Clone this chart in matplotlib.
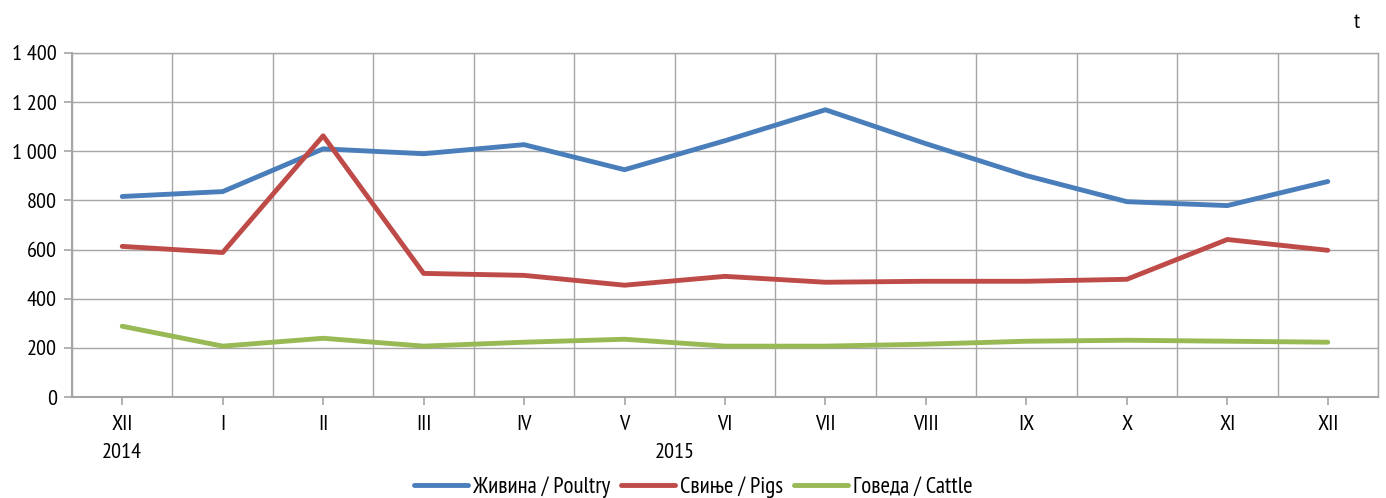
import matplotlib
matplotlib.use("Agg")
import matplotlib.pyplot as plt
from matplotlib.ticker import FixedLocator, FuncFormatter
from matplotlib import font_manager
from matplotlib.ft2font import FT2Font

months = ["XII", "I", "II", "III", "IV", "V", "VI", "VII", "VIII", "IX", "X", "XI", "XII"]
poultry = [816, 836, 1010, 990, 1027, 925, 1043, 1169, 1031, 901, 795, 779, 877]
pigs = [613, 588, 1063, 503, 495, 455, 491, 467, 471, 471, 479, 641, 597]
cattle = [288, 207, 239, 207, 223, 235, 207, 207, 215, 227, 231, 227, 223]
series_names = ["Живина / Poultry", "Свиње / Pigs", "Говеда / Cattle"]
colors = ["#4A7EBB", "#BE4B48", "#98B954"]
years = ["2014", "2015"]


def pick_font():
    prefs = ['Liberation Sans Narrow', 'Arial Narrow', 'PT Sans Narrow', 'Roboto Condensed',
             'Open Sans Condensed', 'Noto Sans Display', 'Archivo Narrow']
    by_name = {}
    for f in font_manager.fontManager.ttflist:
        if f.style == 'normal' and f.weight in (400, 'normal', 'regular'):
            by_name.setdefault(f.name, f.fname)
    for p in prefs:
        if p in by_name:
            try:
                cm = FT2Font(by_name[p]).get_charmap()
                if ord('Ж') in cm and (ord('ј') in cm or ord('њ') in cm):
                    return p
            except Exception:
                pass
    return 'Liberation Sans'


fam = pick_font()
plt.rcParams['font.family'] = [fam, 'Liberation Sans', 'DejaVu Sans']

fig = plt.figure(figsize=(13.86, 4.98), dpi=100)
W, H = 1386, 498
L, R, T, B = 72, 1378, 53, 397
ax = fig.add_axes([L / W, 1 - B / H, (R - L) / W, (B - T) / H])

x = list(range(len(months)))
for vals, name, c in zip([poultry, pigs, cattle], series_names, colors):
    ax.plot(x, vals, color=c, lw=3.5, label=name, solid_capstyle='round', solid_joinstyle='round', zorder=3)

ax.set_xlim(-0.5, len(months) - 0.5)
ax.set_ylim(0, 1400)
ax.yaxis.set_major_locator(FixedLocator(range(0, 1401, 200)))
ax.yaxis.set_major_formatter(FuncFormatter(lambda v, p: f"{int(v):,}".replace(",", " ")))
ax.set_xticks(x)
ax.set_xticklabels(months)
ax.set_xticks([i + 0.5 for i in range(-1, len(months))], minor=True)

grid_c = "#A6A6A6"
ax.grid(True, axis='y', which='major', color=grid_c, lw=1)
ax.grid(True, axis='x', which='minor', color=grid_c, lw=1)
ax.set_axisbelow(True)
for s in ax.spines.values():
    s.set_color(grid_c)
    s.set_linewidth(1)
ax.spines['left'].set_linewidth(1.5)
ax.spines['bottom'].set_linewidth(1.5)

fs = 16
ax.tick_params(axis='y', which='major', length=6, width=1.2, color=grid_c, labelsize=fs, pad=5, direction='out')
ax.tick_params(axis='x', which='major', length=6, width=1.2, color=grid_c, labelsize=fs, pad=7, direction='out')
ax.tick_params(axis='x', which='minor', length=0)

ax.text(0, -0.16, years[0], transform=ax.get_xaxis_transform(), ha='center', va='center', fontsize=fs)
ax.text(5.5, -0.16, years[1], transform=ax.get_xaxis_transform(), ha='center', va='center', fontsize=fs)
fig.text(1357 / W, 1 - 22 / H, "t", ha='center', va='center', fontsize=fs)

fig.legend(loc='center', bbox_to_anchor=(0.5, 1 - 487 / H), ncol=3, frameon=False,
           fontsize=16.5, handlelength=2.35, handletextpad=0.22, columnspacing=0.48, borderaxespad=0)

fig.savefig("out.png", dpi=100)
